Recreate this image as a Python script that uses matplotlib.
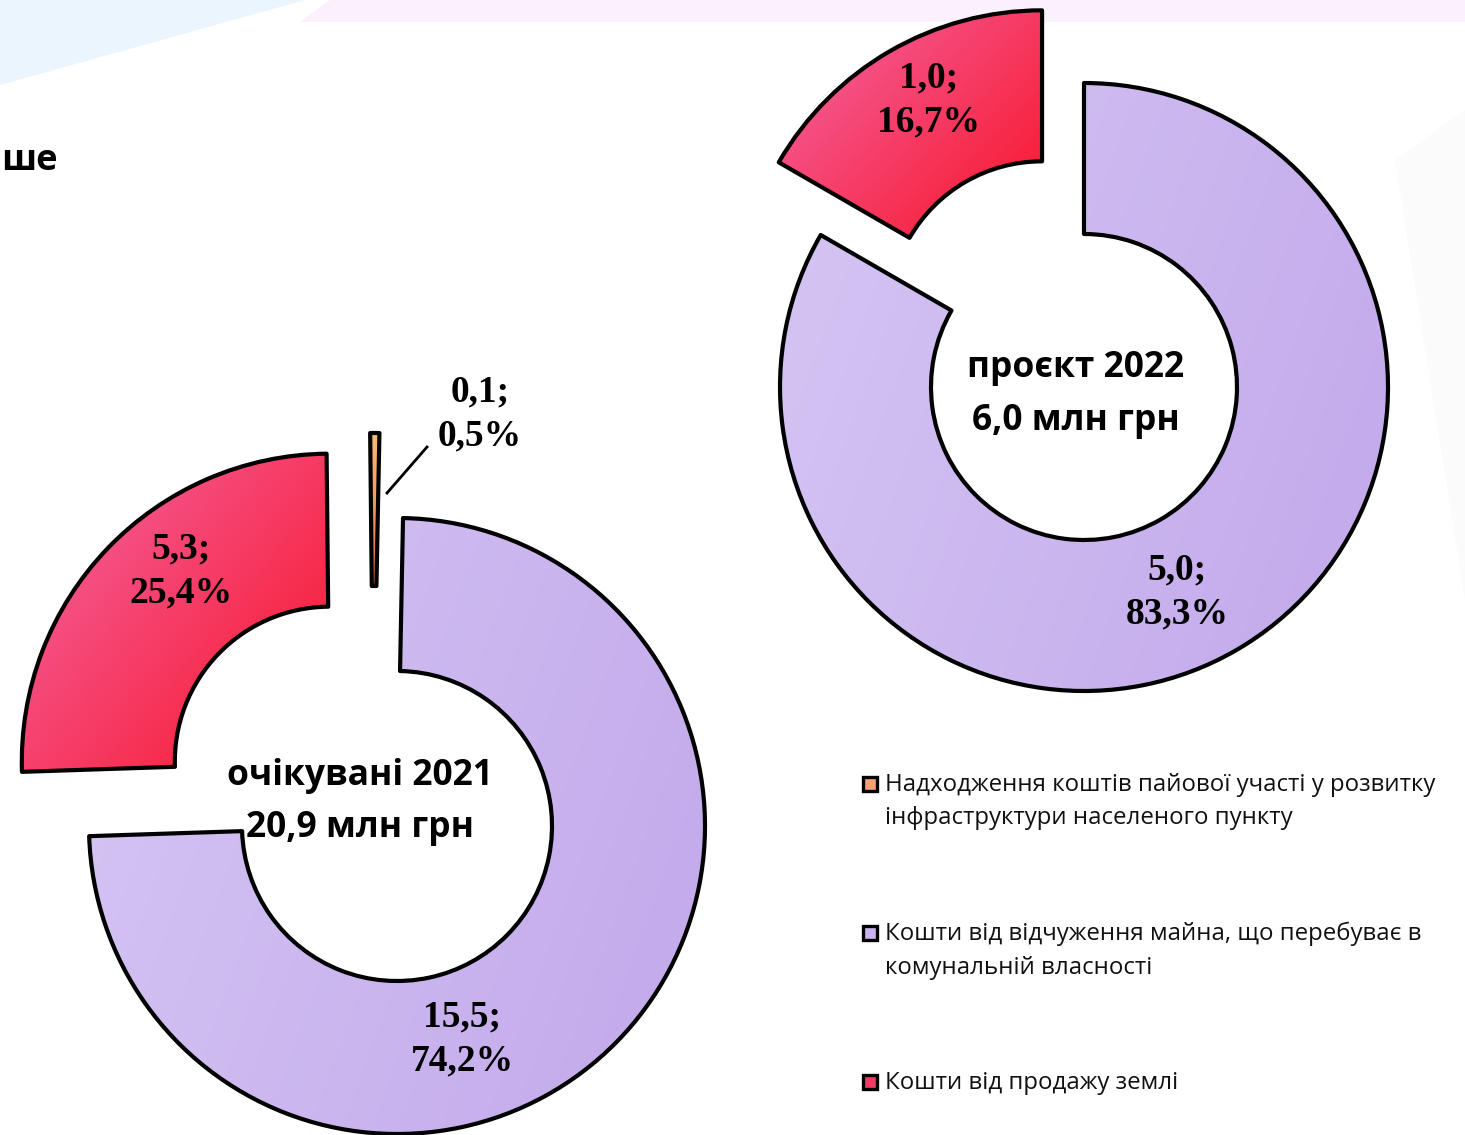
import numpy as np
import matplotlib
matplotlib.use("Agg")
import matplotlib.pyplot as plt
from matplotlib.colors import LinearSegmentedColormap
from matplotlib.patches import Rectangle, Polygon

# ---------------- data ----------------
categories = [
    "Надходження коштів пайової участі у розвитку\nінфраструктури населеного пункту",
    "Кошти від відчуження майна, що перебуває в\nкомунальній власності",
    "Кошти від продажу землі",
]
values_2021 = [0.1, 15.5, 5.3]   # млн грн
values_2022 = [0.0, 5.0, 1.0]    # млн грн
title_2021 = "очікувані 2021"
title_2022 = "проєкт 2022"
unit = "млн грн"

# ---------------- style ----------------
W, H = 1465, 1135
fig = plt.figure(figsize=(W / 100, H / 100), dpi=100)
ax = fig.add_axes([0, 0, 1, 1])
ax.set_xlim(0, W)
ax.set_ylim(0, H)
ax.axis("off")


def Y(py):
    return H - py


grad_colors = [("#f9bd78", "#e8684a"),   # orange
               ("#d5c6f3", "#c2a8eb"),   # purple
               ("#f466a6", "#f81428")]   # red
grad_angle = [-90, -20, -40]
solid_colors = ["#f4a070", "#c9b4f0", "#f03c64"]

SERIF = ["Liberation Serif", "DejaVu Serif"]
SANS = ["Open Sans", "DejaVu Sans"]

# background decorations
ax.add_patch(Polygon([(0, Y(0)), (305, Y(0)), (0, Y(85))], closed=True,
                     facecolor="#eaf5fd", edgecolor="none", zorder=0))
ax.add_patch(Polygon([(330, Y(0)), (W, Y(0)), (W, Y(22)), (300, Y(22))], closed=True,
                     facecolor="#fbf0fc", edgecolor="none", zorder=0))
ax.add_patch(Polygon([(1395, Y(160)), (W, Y(110)), (W, Y(600))], closed=True,
                     facecolor="#fbfbfb", edgecolor="none", zorder=0))

fig.text(1 / W, 1 - 161 / H, "ше", ha="left", va="center",
         fontsize=26, fontweight="bold", family=SANS)


def fmt(v):
    return f"{v:.1f}".replace(".", ",")


def add_gradient(wedge, c1, c2, ang):
    bb = wedge.get_path().get_extents()
    n = 200
    xs = np.linspace(-1, 1, n)
    X, Yg = np.meshgrid(xs, xs)
    a = np.deg2rad(ang)
    t = X * np.cos(a) + Yg * np.sin(a)
    t = (t - t.min()) / (t.max() - t.min())
    cmap = LinearSegmentedColormap.from_list("g", [c1, c2])
    im = ax.imshow(t, cmap=cmap, extent=(bb.x0, bb.x1, bb.y0, bb.y1),
                   origin="lower", zorder=1, interpolation="bilinear",
                   vmin=0, vmax=1)
    im.set_clip_path(wedge)


def donut(values, center, R, width, explode_frac, startangle, lateral=None):
    idx = [i for i, v in enumerate(values) if v > 0]
    vals = [values[i] for i in idx]
    expl = [explode_frac[i] * R for i in idx]
    wedges, _ = ax.pie(vals, colors=[solid_colors[i] for i in idx],
                       startangle=startangle, counterclock=False,
                       radius=R, center=center, explode=expl, frame=True,
                       wedgeprops=dict(width=width, edgecolor="black",
                                       linewidth=3.0, joinstyle="round"))
    for w, i in zip(wedges, idx):
        if lateral and i in lateral:
            c = w.center
            w.set_center((c[0] + lateral[i], c[1]))
        w.set_zorder(2)
        w.set_facecolor("none")
        add_gradient(w, grad_colors[i][0], grad_colors[i][1], grad_angle[i])
    return wedges


# chart 2021
total21 = sum(values_2021)
donut(values_2021, (397, Y(826)), 308, 153, [0.276, 0.0, 0.302], 90.6,
      lateral={0: -24})
# chart 2022
total22 = sum(values_2022)
donut(values_2022, (1084, Y(387)), 304, 151, [0.0, 0.0, 0.276], 90)

ax.set_xlim(0, W)
ax.set_ylim(0, H)
ax.set_aspect("equal")
ax.axis("off")

lab_kw = dict(ha="center", va="center", fontsize=27, fontweight="bold",
              family=SERIF, linespacing=1.3, zorder=5)


def lab(v, tot):
    return f"{fmt(v)};\n{fmt(100 * v / tot)}%"


# labels 2021
ax.text(480, Y(414), lab(values_2021[0], total21), **lab_kw)
ax.text(462, Y(1039), lab(values_2021[1], total21), **lab_kw)
ax.text(181, Y(571), lab(values_2021[2], total21), **lab_kw)
ax.plot([387, 427], [Y(493), Y(447)], color="black", lw=2.0, zorder=4)
# labels 2022
ax.text(1177, Y(592), lab(values_2022[1], total22), **lab_kw)
ax.text(929, Y(100), lab(values_2022[2], total22), **lab_kw)

# centre titles
ctr_kw = dict(ha="center", va="center", fontsize=25.5, fontweight="bold",
              family=SANS, zorder=5)
ax.text(360, Y(776), title_2021, **ctr_kw)
ax.text(360, Y(828), f"{fmt(total21)} {unit}", **ctr_kw)
ax.text(1076, Y(368), title_2022, **ctr_kw)
ax.text(1076, Y(421), f"{fmt(total22)} {unit}", **ctr_kw)

# legend (manual)
leg_y = [784, 933, 1082]
for i, (cat, yy) in enumerate(zip(categories, leg_y)):
    ax.add_patch(Rectangle((863, Y(yy) - 7), 14, 14, facecolor=solid_colors[i],
                           edgecolor="black", linewidth=2.4, zorder=5))
    ax.text(885, Y(yy) + 11, cat, ha="left", va="top", fontsize=17.3,
            family=SANS, linespacing=1.52, zorder=5, color="#111111")

fig.savefig("out.png", dpi=100)
